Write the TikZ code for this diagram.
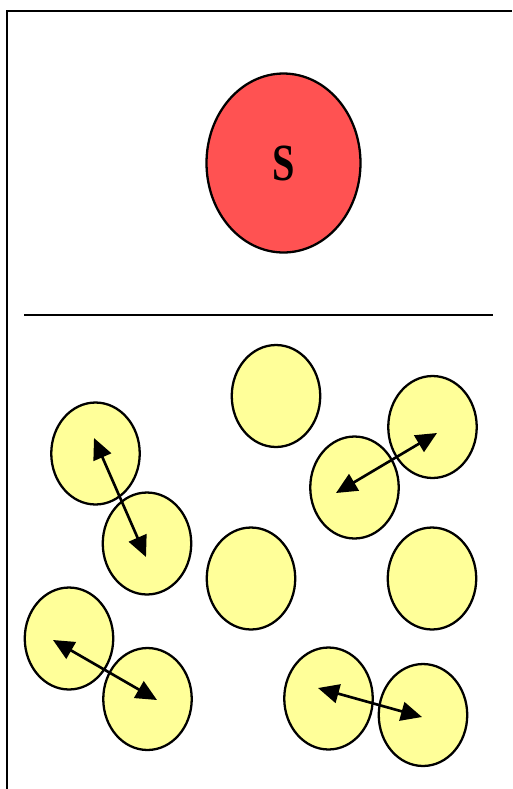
\documentclass[tikz,border=0pt]{standalone}
\usepackage{fontspec}
\setmainfont{Liberation Serif}
\usetikzlibrary{shapes.geometric, arrows.meta}
\definecolor{fillSolute}{HTML}{FF5252}
\definecolor{fillSolvent}{HTML}{FFFF99}

\begin{document}
\begin{tikzpicture}[
    x=0.02cm, y=-0.02cm,
    pairarrow/.style={line width=1.5pt, {Triangle[length=0.42cm, width=0.38cm]}-{Triangle[length=0.42cm, width=0.38cm]}},
    molecule/.style={ellipse, draw, line width=1.3pt, fill=fillSolvent, inner sep=0pt, minimum width=1.77cm, minimum height=2.04cm}
]
    \useasboundingbox (0,0) rectangle (512,789);

    % ==========================================
    % 1. FRAME AND SOLUTE (Top Part)
    % ==========================================

    \draw[line width=1.2pt] (7,789) -- (7,11) -- (512,11);

    \node[
        ellipse,
        fill=fillSolute,
        draw,
        line width=1.3pt,
        inner sep=0pt,
        minimum width=3.08cm,
        minimum height=3.58cm
    ] (solute) at (283.5,163) {\fontsize{27}{30}\selectfont\scalebox{0.85}[1.1]{\textbf{S}}};

    % dividing line
    \draw[line width=1.5pt] (24,315) -- (493,315);

    % ==========================================
    % 2. SOLVENT MOLECULES (Bottom Part)
    % ==========================================

    \node[molecule] (topmid)   at (276,396) {};
    \node[molecule] (lefttop)  at (95.5,453.5) {};
    \node[molecule] (leftmid)  at (147,543.5) {};
    \node[molecule] (righttop) at (432.5,427) {};
    \node[molecule] (rightup)  at (354.5,487.5) {};
    \node[molecule] (center)   at (251,578.5) {};
    \node[molecule] (rightmid) at (432,578.5) {};
    \node[molecule] (leftlow)  at (69,638.5) {};
    \node[molecule] (leftbot)  at (147.5,699) {};
    \node[molecule] (midbot)   at (328.5,698.5) {};
    \node[molecule] (rightbot) at (423,715) {};

    % ==========================================
    % 3. PAIR ARROWS
    % ==========================================

    % arrow ends inside the molecules
    \coordinate (lefttopEnd)  at (94,438);
    \coordinate (leftmidEnd)  at (146,557);
    \coordinate (righttopEnd) at (437,433);
    \coordinate (rightupEnd)  at (336,493);
    \coordinate (leftlowEnd)  at (53,640);
    \coordinate (leftbotEnd)  at (157,700);
    \coordinate (midbotEnd)   at (318,688);
    \coordinate (rightbotEnd) at (422,717);

    \draw[pairarrow] (lefttopEnd) -- (leftmidEnd);
    \draw[pairarrow] (righttopEnd) -- (rightupEnd);
    \draw[pairarrow] (leftlowEnd) -- (leftbotEnd);
    \draw[pairarrow] (midbotEnd) -- (rightbotEnd);

\end{tikzpicture}
\end{document}
